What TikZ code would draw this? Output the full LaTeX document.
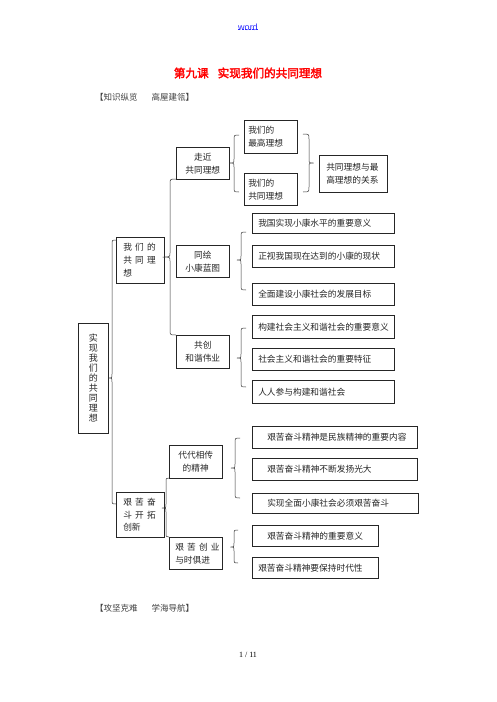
\documentclass[tikz,border=0pt]{standalone}
\usepackage{fontspec}
\setmainfont{Liberation Serif}
\newfontfamily\cjk{Noto Sans CJK SC}
\newfontfamily\cjkb[FakeBold=2.5]{Noto Sans CJK SC}
\newfontfamily\arialf{Liberation Sans}
\newcommand\myLbrace[6]{% xline, xarm, xtip, ytop, ybot, ymid  (left brace, tip to the left)
  \draw[brc] (#2,#4) .. controls (#1,#4) .. (#1,#4+5) -- (#1,#6-4)
    .. controls (#1,#6) .. (#3,#6) .. controls (#1,#6) .. (#1,#6+4)
    -- (#1,#5-5) .. controls (#1,#5) .. (#2,#5);}
\newcommand\myRbrace[6]{% xline, xarm, xtip, ytop, ybot, ymid (right brace, tip to the right)
  \draw[brc] (#2,#4) .. controls (#1,#4) .. (#1,#4+5) -- (#1,#6-4)
    .. controls (#1,#6) .. (#3,#6) .. controls (#1,#6) .. (#1,#6+4)
    -- (#1,#5-5) .. controls (#1,#5) .. (#2,#5);}
\newcommand\gp{\kern3.2pt}
\begin{document}
\begin{tikzpicture}[x=1pt,y=-1pt,
  bx/.style={draw=black!85, line width=0.5pt, anchor=north west, inner ysep=0pt,
    text=black!85, font=\cjk\fontsize{8.7}{13}\selectfont},
  cb/.style 2 args={bx, inner xsep=0pt, minimum width=#1, minimum height=#2, align=center},
  lb/.style 2 args={bx, inner xsep=6pt, text width=#1-12pt, minimum height=#2, align=left},
  brc/.style={draw=black!80, line width=0.5pt},
  hd/.style={font=\cjk\fontsize{8.5}{10}\selectfont, text=black!75, anchor=west, inner sep=0pt}]
\useasboundingbox (0,0) rectangle (496,702);
\fill[white] (0,0) rectangle (496,702);

% header
\node[font=\arialf\fontsize{9}{10}\selectfont, text={rgb,255:red,40;green,40;blue,255}, inner sep=0pt] (word) at (248,27) {word};
\draw[dashed, dash pattern=on 2pt off 1.5pt, draw={rgb,255:red,40;green,40;blue,255}, line width=0.5pt]
  (word.south west) ++(0,-1.2) coordinate (u1) -- (u1 -| word.south east);
\node[font=\cjkb\fontsize{11.6}{13}\selectfont, text={rgb,255:red,255;green,0;blue,0}, inner sep=0pt] (title) at (248,73) {第九课\kern9pt 实现我们的共同理想};
\node[hd] (h1) at (95,97) {【知识纵览\kern14pt 高屋建瓴】};
\node[hd] (h2) at (95,608) {【攻坚克难\kern14pt 学海导航】};
\node[font=\fontsize{8}{10}\selectfont, inner sep=0pt] (pg) at (248,655) {1 / 11};

% root
\node[bx, inner xsep=0pt, minimum width=30pt, minimum height=110pt, align=center,
  font=\cjk\fontsize{9}{10}\selectfont] (root) at (78,323)
  {实\\现\\我\\们\\的\\共\\同\\理\\想};

% level 2
\node[lb={46pt}{46pt}, inner xsep=7pt, text width=34pt] (a) at (116,237)
  {我\gp 们\gp 的\\共\gp 同\gp 理\\想};
\node[lb={46pt}{45pt}, inner xsep=7pt, text width=34pt, font=\cjk\fontsize{8.7}{12.5}\selectfont] (b) at (116,492)
  {艰\gp 苦\gp 奋\\斗\gp 开\gp 拓\\创新};

% level 3
\node[cb={53pt}{32pt}] (a1) at (176,147) {走近\\共同理想};
\node[cb={53pt}{32pt}] (a2) at (176,245) {同绘\\小康蓝图};
\node[cb={53pt}{33pt}] (a3) at (176,335) {共创\\和谐伟业};
\node[cb={53pt}{33pt}] (b1) at (169,445) {代代相传\\的精神};
\node[lb={53pt}{32pt}] (b2) at (169,537) {艰\gp 苦\gp 创\gp 业\\与时俱进};

% level 4
\node[lb={53pt}{33pt}, inner xsep=4pt, text width=45pt] (a11) at (244,120) {我们的\\最高理想};
\node[lb={53pt}{32pt}, inner xsep=4pt, text width=45pt] (a12) at (244,173) {我们的\\共同理想};
\node[lb={68pt}{37pt}, inner xsep=7pt, text width=54pt] (rel) at (319,155) {共同理想与最\\高理想的关系};
\node[lb={142pt}{20pt}] (a21) at (252,213) {我国实现小康水平的重要意义};
\node[lb={142pt}{22pt}] (a22) at (252,245) {正视我国现在达到的小康的现状};
\node[lb={142pt}{22pt}] (a23) at (252,283) {全面建设小康社会的发展目标};
\node[lb={142pt}{23pt}] (a31) at (252,315) {构建社会主义和谐社会的重要意义};
\node[lb={142pt}{22pt}] (a32) at (252,348) {社会主义和谐社会的重要特征};
\node[lb={142pt}{23pt}] (a33) at (252,380) {人人参与构建和谐社会};
\node[lb={165pt}{22pt}] (b11) at (252,426) {\hspace*{9pt}艰苦奋斗精神是民族精神的重要内容};
\node[lb={165pt}{22pt}] (b12) at (252,458) {\hspace*{9pt}艰苦奋斗精神不断发扬光大};
\node[lb={166pt}{20pt}] (b13) at (252,493) {\hspace*{9pt}实现全面小康社会必须艰苦奋斗};
\node[lb={126pt}{21pt}] (b21) at (252,525) {\hspace*{9pt}艰苦奋斗精神的重要意义};
\node[lb={126pt}{21pt}] (b22) at (252,557) {艰苦奋斗精神要保持时代性};

% braces
\myLbrace{112}{116}{108.5}{240}{504}{378}
\myLbrace{170}{176}{162.5}{179}{335}{257}
\myLbrace{166}{169}{162}{478}{537}{508}
\myLbrace{234}{239}{229.5}{135}{192}{163}
\myRbrace{309}{303}{313.5}{134}{192}{163}
\myLbrace{241}{246}{237}{232}{290}{260}
\myLbrace{241}{246}{237}{328}{387}{358}
\myLbrace{235}{240}{231}{438}{498}{468}
\myLbrace{234}{238}{230.5}{530}{563}{547}
\end{tikzpicture}
\end{document}
